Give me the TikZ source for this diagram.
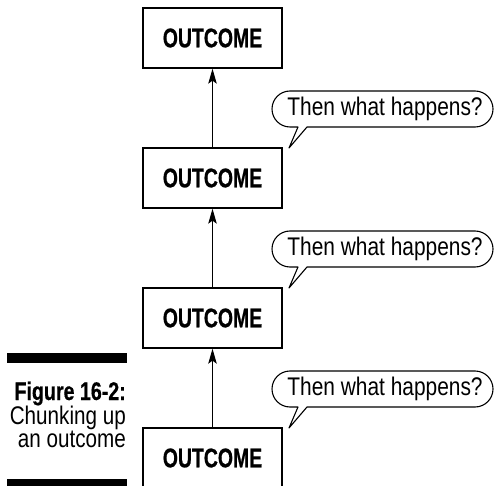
\documentclass[tikz,border=0pt]{standalone}
\usepackage{fontspec}
\setmainfont{Liberation Sans}
\newfontfamily\boxfont{Liberation Sans}[FakeStretch=0.72,FakeBold=0.6]
\newfontfamily\talkfont{Liberation Sans}[FakeStretch=0.82]
\newfontfamily\capboldfont{Liberation Sans}[FakeStretch=0.77,FakeBold=0.5]
\newfontfamily\capfont{Liberation Sans}[FakeStretch=0.81]
\usetikzlibrary{arrows.meta}
\begin{document}
\begin{tikzpicture}[x=1pt,y=-1pt,
  outcomebox/.style={draw,line width=1.3pt,minimum width=139pt,minimum height=60pt,
    inner sep=0pt,font=\boxfont\bfseries\fontsize{27}{32}\selectfont},
  talktext/.style={inner sep=0pt,font=\talkfont\fontsize{25.5}{30}\selectfont},
  bubble/.style={draw,line width=1.1pt,line join=round},
  uparrow/.style={draw,line width=1.1pt,-{Stealth[length=15pt,width=8.5pt,inset=3pt]}},
  capbold/.style={anchor=base east,inner sep=0pt,font=\capboldfont\bfseries\fontsize{25.5}{30}\selectfont},
  capplain/.style={anchor=base east,inner sep=0pt,font=\capfont\fontsize{25.5}{30}\selectfont},
  bar/.style={fill=black,draw=none}]
\useasboundingbox (0,0) rectangle (495,486);
\clip (0,0) rectangle (495,486);

% chain of outcome boxes
\node[outcomebox] (o1) at (212.5,38)  {OUTCOME};
\node[outcomebox] (o2) at (212.5,178) {OUTCOME};
\node[outcomebox] (o3) at (212.5,318) {OUTCOME};
\node[outcomebox] (o4) at (212.5,458) {OUTCOME};

\draw[uparrow] (o2.north) -- (o1.south);
\draw[uparrow] (o3.north) -- (o2.south);
\draw[uparrow] (o4.north) -- (o3.south);

% speech bubbles, each pointing at the box below it
\foreach \i/\cy/\tip in {1/109/148, 2/249/288, 3/389/428}{
  \node[talktext] (q\i) at (385,\cy) {Then what happens?};
  \coordinate (t\i) at (289,\tip);
  \draw[bubble] (307,\cy+18) -- (475,\cy+18)
     arc[start angle=-90,end angle=90,radius=18pt]
     -- (290,\cy-18)
     arc[start angle=90,end angle=270,radius=18pt]
     -- (298,\cy+18) -- (t\i) -- cycle;
}

% figure caption
\path[bar] (7,353) rectangle (127,363);
\path[bar] (7,479) rectangle (127,490);
\node[capbold]  (c1) at (126,400) {Figure 16-2:};
\node[capplain] (c2) at (126,424) {Chunking up};
\node[capplain] (c3) at (126,447) {an outcome};
\end{tikzpicture}
\end{document}
